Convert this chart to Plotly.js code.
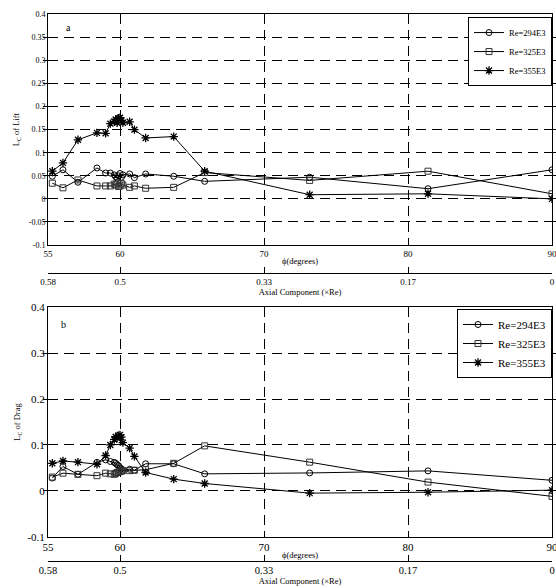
<!DOCTYPE html>
<html><head><meta charset="utf-8">
<script src="https://cdn.plot.ly/plotly-3.0.1.min.js"></script>
<style>html,body{margin:0;padding:0;background:#fff;} #chart{width:556px;height:588px;}</style>
</head><body><div id="chart"></div>
<script>
// phi (degrees) sample positions
const phi = [55.3, 56.04, 57.08, 58.4, 59.0, 59.33, 59.6, 59.7, 59.8, 59.9, 60.0, 60.1, 60.2, 60.67, 61.0, 61.78, 63.73, 65.88, 73.17, 81.39, 90];

// L_C of Lift
const liftRe294 = [0.049, 0.063, 0.036, 0.067, 0.056, 0.056, 0.052, 0.048, 0.045, 0.050, 0.055, 0.047, 0.052, 0.054, 0.046, 0.054, 0.049, 0.038, 0.047, 0.022, 0.063];
const liftRe325 = [0.034, 0.024, 0.041, 0.028, 0.028, 0.028, 0.032, 0.030, 0.035, 0.027, 0.028, 0.033, 0.030, 0.025, 0.028, 0.023, 0.025, 0.057, 0.040, 0.060, 0.011];
const liftRe355 = [0.060, 0.078, 0.128, 0.143, 0.142, 0.163, 0.168, 0.172, 0.165, 0.175, 0.176, 0.170, 0.165, 0.167, 0.150, 0.132, 0.135, 0.060, 0.009, 0.011, 0.000];

// L_C of Drag
const dragRe294 = [0.028, 0.053, 0.036, 0.062, 0.0675, 0.064, 0.062, 0.060, 0.057, 0.055, 0.050, 0.048, 0.045, 0.047, 0.045, 0.059, 0.059, 0.037, 0.039, 0.0435, 0.023];
const dragRe325 = [0.030, 0.0385, 0.036, 0.033, 0.0385, 0.037, 0.036, 0.038, 0.040, 0.041, 0.042, 0.043, 0.044, 0.044, 0.045, 0.046, 0.060, 0.098, 0.0625, 0.019, -0.012];
const dragRe355 = [0.060, 0.065, 0.0625, 0.058, 0.077, 0.100, 0.112, 0.118, 0.115, 0.120, 0.122, 0.117, 0.105, 0.093, 0.075, 0.040, 0.0255, 0.016, -0.005, -0.003, 0.0015];

const seriesNames = ['Re=294E3', 'Re=325E3', 'Re=355E3'];
const phiTickVals = [55, 60, 70, 80, 90];
const phiTickText = ['55', '60', '70', '80', '90'];
const axialTickText = ['0.58', '0.5', '0.33', '0.17', '0'];
const liftTickVals = [-0.1, -0.05, 0, 0.05, 0.1, 0.15, 0.2, 0.25, 0.3, 0.35, 0.4];
const liftTickText = ['-0.1', '-0.05', '0', '0.05', '0.1', '0.15', '0.2', '0.25', '0.3', '0.35', '0.4'];
const dragTickVals = [-0.1, 0, 0.1, 0.2, 0.3, 0.4];
const dragTickText = ['-0.1', '0', '0.1', '0.2', '0.3', '0.4'];

const serif = 'Liberation Serif, Times New Roman, serif';
const markers = [
  {symbol: 'circle-open', size: 6, color: '#000', line: {color: '#000', width: 1}},
  {symbol: 'square-open', size: 6, color: '#333', line: {color: '#333', width: 1}},
  {symbol: 'asterisk-open', size: 7, color: '#000', line: {color: '#000', width: 1.3}}
];

function mk(y, i, xa, ya, leg) {
  return {x: phi, y: y, name: seriesNames[i], type: 'scatter', mode: 'lines+markers',
    xaxis: xa, yaxis: ya, legend: leg,
    line: {color: '#000', width: 1}, marker: markers[i]};
}
// invisible carrier trace so the secondary (axial component) axis is drawn
function carrier(y, xa, ya) {
  return {x: phi, y: y, type: 'scatter', mode: 'lines', xaxis: xa, yaxis: ya, showlegend: false,
    hoverinfo: 'skip', opacity: 0, line: {width: 0, color: 'rgba(0,0,0,0)'}};
}

const data = [
  mk(liftRe294, 0, 'x', 'y', 'legend'),
  mk(liftRe325, 1, 'x', 'y', 'legend'),
  mk(liftRe355, 2, 'x', 'y', 'legend'),
  mk(dragRe294, 0, 'x2', 'y2', 'legend2'),
  mk(dragRe325, 1, 'x2', 'y2', 'legend2'),
  mk(dragRe355, 2, 'x2', 'y2', 'legend2'),
  carrier(liftRe294, 'x3', 'y'),
  carrier(dragRe294, 'x4', 'y2')
];

const gridDash = '10px,6px';
function phiAxis(anchor, fs) {
  return {domain: [0, 1], anchor: anchor, range: [55, 90], tickmode: 'array', tickvals: phiTickVals, ticktext: phiTickText,
    ticks: 'inside', ticklen: 4, tickcolor: '#000', showline: true, linecolor: '#000', linewidth: 1, mirror: 'allticks',
    showgrid: true, gridcolor: '#000', griddash: gridDash, gridwidth: 1, zeroline: false, ticklabeloverflow: 'allow',
    tickfont: {family: serif, size: fs, color: '#000'},
    title: {text: 'ϕ(degrees)', font: {family: serif, size: 8.5, color: '#000'}, standoff: 0}, automargin: false};
}
function axialAxis(over, pos, fs) {
  return {overlaying: over, anchor: 'free', position: pos, range: [55, 90], tickmode: 'array', tickvals: phiTickVals, ticktext: axialTickText,
    ticks: 'inside', ticklen: 6, tickcolor: '#000', showline: true, linecolor: '#000', linewidth: 1, showgrid: false, zeroline: false,
    side: 'bottom', ticklabeloverflow: 'allow', tickfont: {family: serif, size: fs, color: '#000'},
    title: {text: 'Axial Component (×Re)', font: {family: serif, size: 8.5, color: '#000'}, standoff: 0}, automargin: false};
}
function yAxis(anchor, dom, vals, txt, fs, title, so) {
  return {domain: dom, anchor: anchor, range: [-0.1, 0.4], tickmode: 'array', tickvals: vals, ticktext: txt,
    ticks: 'inside', ticklen: 4, tickcolor: '#000', showline: true, linecolor: '#000', linewidth: 1, mirror: 'allticks',
    showgrid: true, gridcolor: '#000', griddash: gridDash, gridwidth: 1, zeroline: false, ticklabeloverflow: 'allow',
    tickfont: {family: serif, size: fs, color: '#000'},
    title: {text: title, font: {family: serif, size: 8.5, color: '#000'}, standoff: so}, automargin: false};
}

const layout = {
  width: 556, height: 588,
  margin: {l: 48, r: 4, t: 0, b: 0},
  paper_bgcolor: '#fff', plot_bgcolor: '#fff',
  showlegend: true,
  xaxis: phiAxis('y', 9),
  yaxis: yAxis('x', [0.5833, 0.9757], liftTickVals, liftTickText, 8, 'L<sub>C</sub> of Lift', 7),
  xaxis2: phiAxis('y2', 11),
  yaxis2: yAxis('x2', [0.0872, 0.4774], dragTickVals, dragTickText, 11, 'L<sub>C</sub> of Drag', 5),
  xaxis3: axialAxis('x', 0.5362, 9),
  xaxis4: axialAxis('x2', 0.0464, 10.5),
  legend: {x: 1, xanchor: 'right', y: 0.971, yanchor: 'top', bgcolor: '#fff', bordercolor: '#000', borderwidth: 1,
    font: {family: serif, size: 8.5, color: '#000'}, itemwidth: 30, tracegroupgap: 0},
  legend2: {x: 1, xanchor: 'right', y: 0.4745, yanchor: 'top', bgcolor: '#fff', bordercolor: '#000', borderwidth: 1,
    font: {family: serif, size: 11, color: '#000'}, itemwidth: 30, tracegroupgap: 0},
  annotations: [
    {text: 'a', xref: 'paper', yref: 'paper', x: 0.0397, y: 0.954, xanchor: 'center', yanchor: 'middle', showarrow: false, font: {family: serif, size: 10, color: '#000'}},
    {text: 'b', xref: 'paper', yref: 'paper', x: 0.0317, y: 0.4473, xanchor: 'center', yanchor: 'middle', showarrow: false, font: {family: serif, size: 10, color: '#000'}}
  ]
};

Plotly.newPlot('chart', data, layout, {displayModeBar: false, staticPlot: true});
</script>
</body></html>
